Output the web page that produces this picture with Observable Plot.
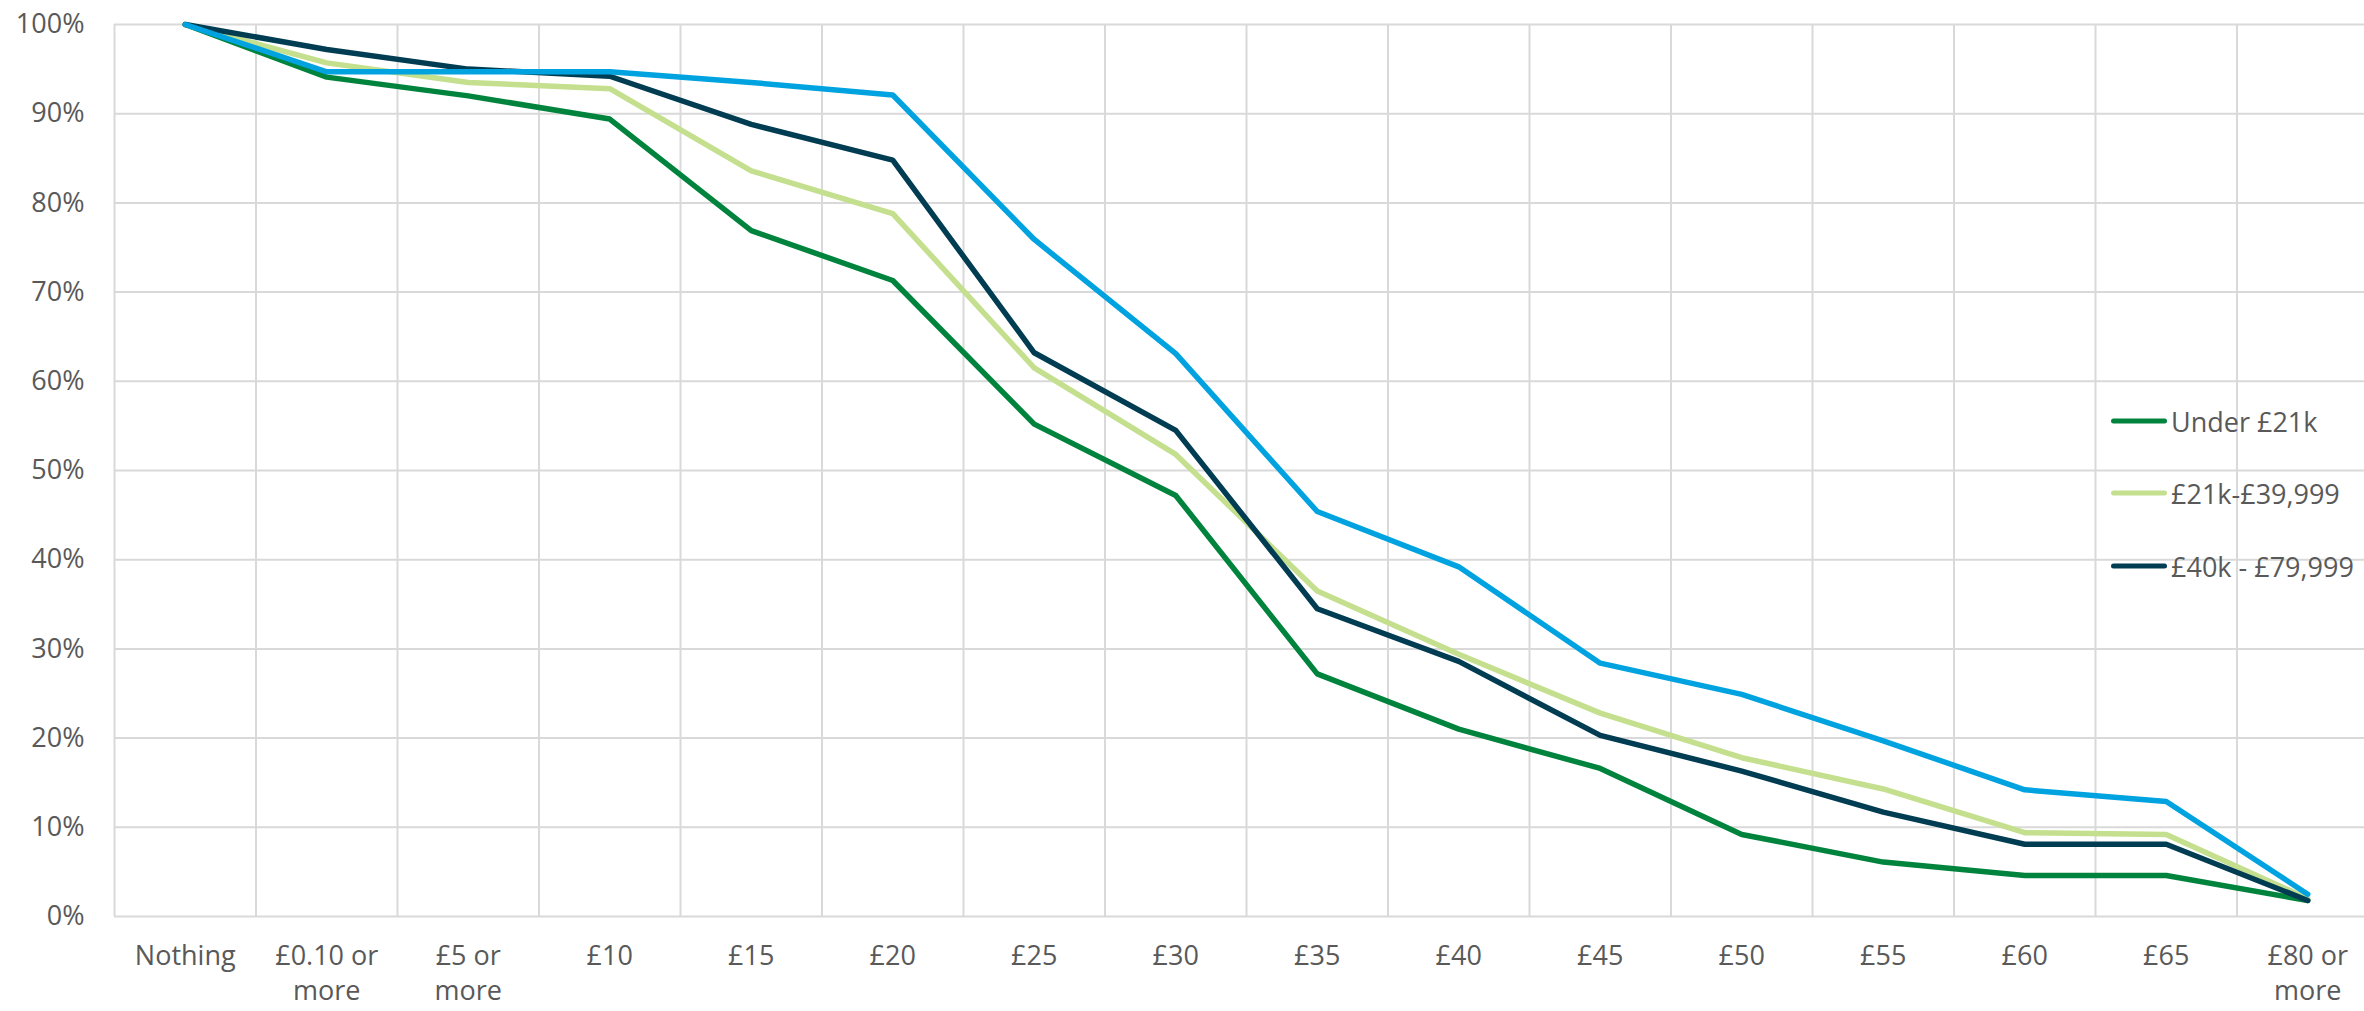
<!DOCTYPE html>
<html>
<head>
<meta charset="utf-8">
<script src="https://cdn.jsdelivr.net/npm/d3@7"></script>
<script src="https://cdn.jsdelivr.net/npm/@observablehq/plot@0.6"></script>
<style>
  html, body { margin: 0; padding: 0; background: #fff; }
  #wrap { position: relative; width: 2364px; height: 1011px; overflow: hidden; }
  #legend { position: absolute; left: 2111px; top: 0; font-family: "Open Sans", sans-serif; font-size: 27px; color: #595959; }
  .item { position: absolute; left: 0; display: flex; align-items: center; white-space: nowrap; transform: translateY(-50%); }
  .swatch { width: 56px; height: 5px; border-radius: 3px; margin-right: 4px; }
</style>
</head>
<body>
<div id="wrap"><div id="legend"></div></div>
<script>
const categories = ["Nothing", "£0.10 or\nmore", "£5 or\nmore", "£10", "£15", "£20", "£25", "£30", "£35", "£40", "£45", "£50", "£55", "£60", "£65", "£80 or\nmore"];
const seriesNames = ["Under £21k", "£21k-£39,999", "£40k - £79,999", "£80k or more"];
const under21k = [100, 94.1, 92.0, 89.4, 76.9, 71.3, 55.2, 47.2, 27.2, 21.0, 16.6, 9.2, 6.1, 4.6, 4.6, 1.8];
const from21kTo39k = [100, 95.7, 93.5, 92.8, 83.6, 78.8, 61.5, 51.8, 36.5, 29.4, 22.8, 17.8, 14.3, 9.4, 9.2, 2.0];
const from40kTo79k = [100, 97.2, 95.0, 94.2, 88.8, 84.8, 63.2, 54.5, 34.5, 28.6, 20.3, 16.3, 11.7, 8.1, 8.1, 1.8];
const over80k = [100, 94.7, 94.7, 94.7, 93.5, 92.1, 75.9, 63.1, 45.4, 39.2, 28.4, 24.9, 19.7, 14.2, 12.9, 2.5];
const seriesColors = ["#00843d", "#c4df8d", "#003d52", "#00a3e0"];
const legendSeries = [0, 1, 2];
const yTicks = [0, 10, 20, 30, 40, 50, 60, 70, 80, 90, 100];

const allSeries = [under21k, from21kTo39k, from40kTo79k, over80k];
const rows = allSeries.flatMap((vals, s) => vals.map((v, i) => ({series: seriesNames[s], i, v})));
const idx = d3.range(categories.length);
const bounds = d3.range(categories.length + 1).map(i => i - 0.5);

const chart = Plot.plot({
  width: 2364,
  height: 1011,
  marginLeft: 114,
  marginRight: -14,
  marginTop: 24,
  marginBottom: 95,
  style: {fontFamily: "'Open Sans', sans-serif", fontSize: "27px", color: "#595959", background: "#fff", overflow: "hidden"},
  x: {domain: [-0.5, categories.length - 0.5]},
  y: {domain: [0, 100]},
  color: {domain: seriesNames, range: seriesColors},
  marks: [
    Plot.ruleY(yTicks, {y: d => d, stroke: "#d9d9d9", strokeWidth: 2}),
    Plot.ruleX(bounds, {x: d => d, y1: 0, y2: 100, stroke: "#d9d9d9", strokeWidth: 2}),
    Plot.axisY({ticks: yTicks, tickFormat: d => d + "%", tickSize: 0, tickPadding: 30, label: null}),
    Plot.axisX({ticks: idx, tickFormat: i => categories[i], tickSize: 0, tickPadding: 23, lineHeight: 1.32, label: null}),
    Plot.lineY(rows, {x: "i", y: "v", z: "series", stroke: "series", strokeWidth: 5.5, strokeLinejoin: "round", strokeLinecap: "round"})
  ]
});
document.getElementById("wrap").prepend(chart);

const legendY = [421, 493, 566];
const legend = document.getElementById("legend");
legendSeries.forEach((s, k) => {
  const item = document.createElement("div");
  item.className = "item";
  item.style.top = legendY[k] + "px";
  const sw = document.createElement("div");
  sw.className = "swatch";
  sw.style.background = seriesColors[s];
  const t = document.createElement("span");
  t.textContent = seriesNames[s];
  item.append(sw, t);
  legend.append(item);
});
</script>
</body>
</html>
